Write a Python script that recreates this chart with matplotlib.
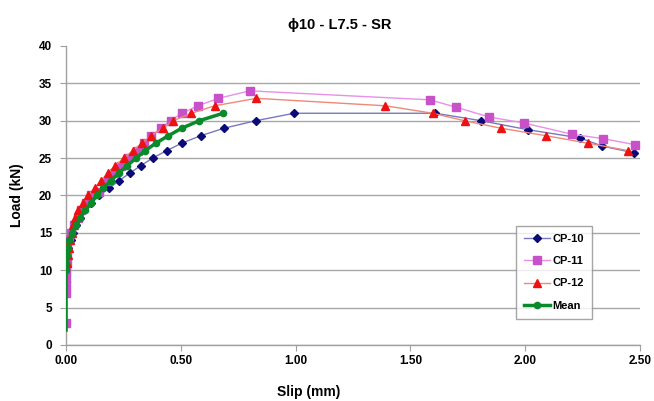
import matplotlib
matplotlib.use("Agg")
import matplotlib.pyplot as plt
from matplotlib.ticker import FormatStrFormatter

plt.rcParams['font.family'] = ['Liberation Sans', 'DejaVu Sans']
plt.rcParams['font.weight'] = 'bold'

title = "ϕ10 - L7.5 - SR"
xlabel = "Slip (mm)"
ylabel = "Load (kN)"

cp10_slip = [0.0, 0.003, 0.006, 0.010, 0.020, 0.030, 0.045, 0.060, 0.080, 0.110, 0.145,
             0.188, 0.232, 0.278, 0.326, 0.377, 0.438, 0.504, 0.587, 0.688, 0.826, 0.993,
             1.609, 1.809, 2.011, 2.239, 2.336, 2.475]
cp10_load = [10, 11, 12, 13, 14, 15, 16, 17, 18, 19, 20,
             21, 22, 23, 24, 25, 26, 27, 28, 29, 30, 31,
             31.0, 30.0, 28.8, 27.7, 26.6, 25.7]

cp11_slip = [0.0, 0.0, 0.0, 0.0, 0.0, 0.002, 0.004, 0.006, 0.012, 0.022, 0.034, 0.050,
             0.067, 0.087, 0.110, 0.145, 0.178, 0.210, 0.240, 0.272, 0.312, 0.340, 0.372,
             0.412, 0.455, 0.504, 0.574, 0.664, 0.800,
             1.584, 1.700, 1.843, 1.994, 2.203, 2.340, 2.478]
cp11_load = [3, 7, 8, 9, 10, 11, 12, 13, 14, 15, 16, 17,
             18, 19, 20, 20.5, 22, 23, 24, 25, 26, 27, 28,
             29, 30, 31, 32, 33, 34,
             32.8, 31.8, 30.5, 29.7, 28.2, 27.6, 26.8]

cp12_slip = [0.004, 0.008, 0.013, 0.019, 0.025, 0.032, 0.040, 0.052, 0.072, 0.096, 0.125,
             0.152, 0.183, 0.214, 0.251, 0.290, 0.330, 0.370, 0.423, 0.467, 0.546, 0.648, 0.829,
             1.391, 1.597, 1.736, 1.894, 2.090, 2.272, 2.449]
cp12_load = [11, 12, 13, 14, 15, 16, 17, 18, 19, 20, 21,
             22, 23, 24, 25, 26, 27, 28, 29, 30, 31, 32, 33,
             32, 31, 30, 29, 28, 27, 26]

mean_slip = [0.0, 0.0, 0.001, 0.003, 0.007, 0.014, 0.026, 0.043, 0.061, 0.084, 0.109, 0.133,
             0.162, 0.196, 0.229, 0.267, 0.304, 0.345, 0.391, 0.446, 0.504, 0.580, 0.684]
mean_load = [2, 10, 11, 12, 13, 14, 15, 16, 17, 18, 19, 20,
             21, 22, 23, 24, 25, 26, 27, 28, 29, 30, 31]

fig = plt.figure(figsize=(6.54, 4.01), dpi=100)
ax = fig.add_axes([0.101, 0.1397, 0.8776, 0.7456])

ax.plot(cp10_slip, cp10_load, color='#7878c0', lw=1.0, marker='D', ms=4,
        mfc='#0a0a78', mec='#0a0a78', label='CP-10', zorder=3)
ax.plot(cp11_slip, cp11_load, color='#e890e8', lw=1.0, marker='s', ms=5.5,
        mfc='#c850c8', mec='#c850c8', label='CP-11', zorder=3)
ax.plot(cp12_slip, cp12_load, color='#f08878', lw=1.0, marker='^', ms=6,
        mfc='#ee1111', mec='#ee1111', label='CP-12', zorder=3)
ax.plot(mean_slip, mean_load, color='#0a8a2a', lw=2.5, marker='o', ms=4.5,
        mfc='#0a8a2a', mec='#0a8a2a', markevery=list(range(1, len(mean_slip))),
        label='Mean', zorder=4)

ax.set_xlim(0, 2.5)
ax.set_ylim(0, 40)
ax.set_xticks([0, 0.5, 1.0, 1.5, 2.0, 2.5])
ax.set_yticks(range(0, 41, 5))
ax.xaxis.set_major_formatter(FormatStrFormatter('%.2f'))

ax.yaxis.grid(True, color='#a8a8a8', lw=1.0)
for gl, t in zip(ax.yaxis.get_gridlines(), ax.get_yticks()):
    if t >= 40:
        gl.set_visible(False)
ax.set_axisbelow(True)

for s in ['top', 'right']:
    ax.spines[s].set_visible(False)
for s in ['left', 'bottom']:
    ax.spines[s].set_color('#a0a0a0')
    ax.spines[s].set_linewidth(1.0)
ax.tick_params(axis='both', colors='#a0a0a0', labelcolor='black', length=4,
               labelsize=8.5, direction='out')
for lbl in ax.get_xticklabels() + ax.get_yticklabels():
    lbl.set_fontweight('bold')
ax.tick_params(axis='x', pad=3)
ax.tick_params(axis='y', pad=6)

ax.set_xlabel(xlabel, fontsize=10, fontweight='bold')
ax.xaxis.set_label_coords(0.423, -0.135)
ax.set_ylabel(ylabel, fontsize=10, fontweight='bold', labelpad=11)
fig.text(0.52, 0.937, title, ha='center', va='center', fontsize=10.5, fontweight='bold')

leg = ax.legend(loc='lower left', bbox_to_anchor=(0.784, 0.087), fontsize=8,
                frameon=True, fancybox=False, edgecolor='#909090', handlelength=2.3,
                borderpad=0.75, labelspacing=1.1, handletextpad=0.2, borderaxespad=0)
leg.get_frame().set_linewidth(1.0)
for t in leg.get_texts():
    t.set_fontweight('bold')

fig.savefig('out.png', dpi=100)
